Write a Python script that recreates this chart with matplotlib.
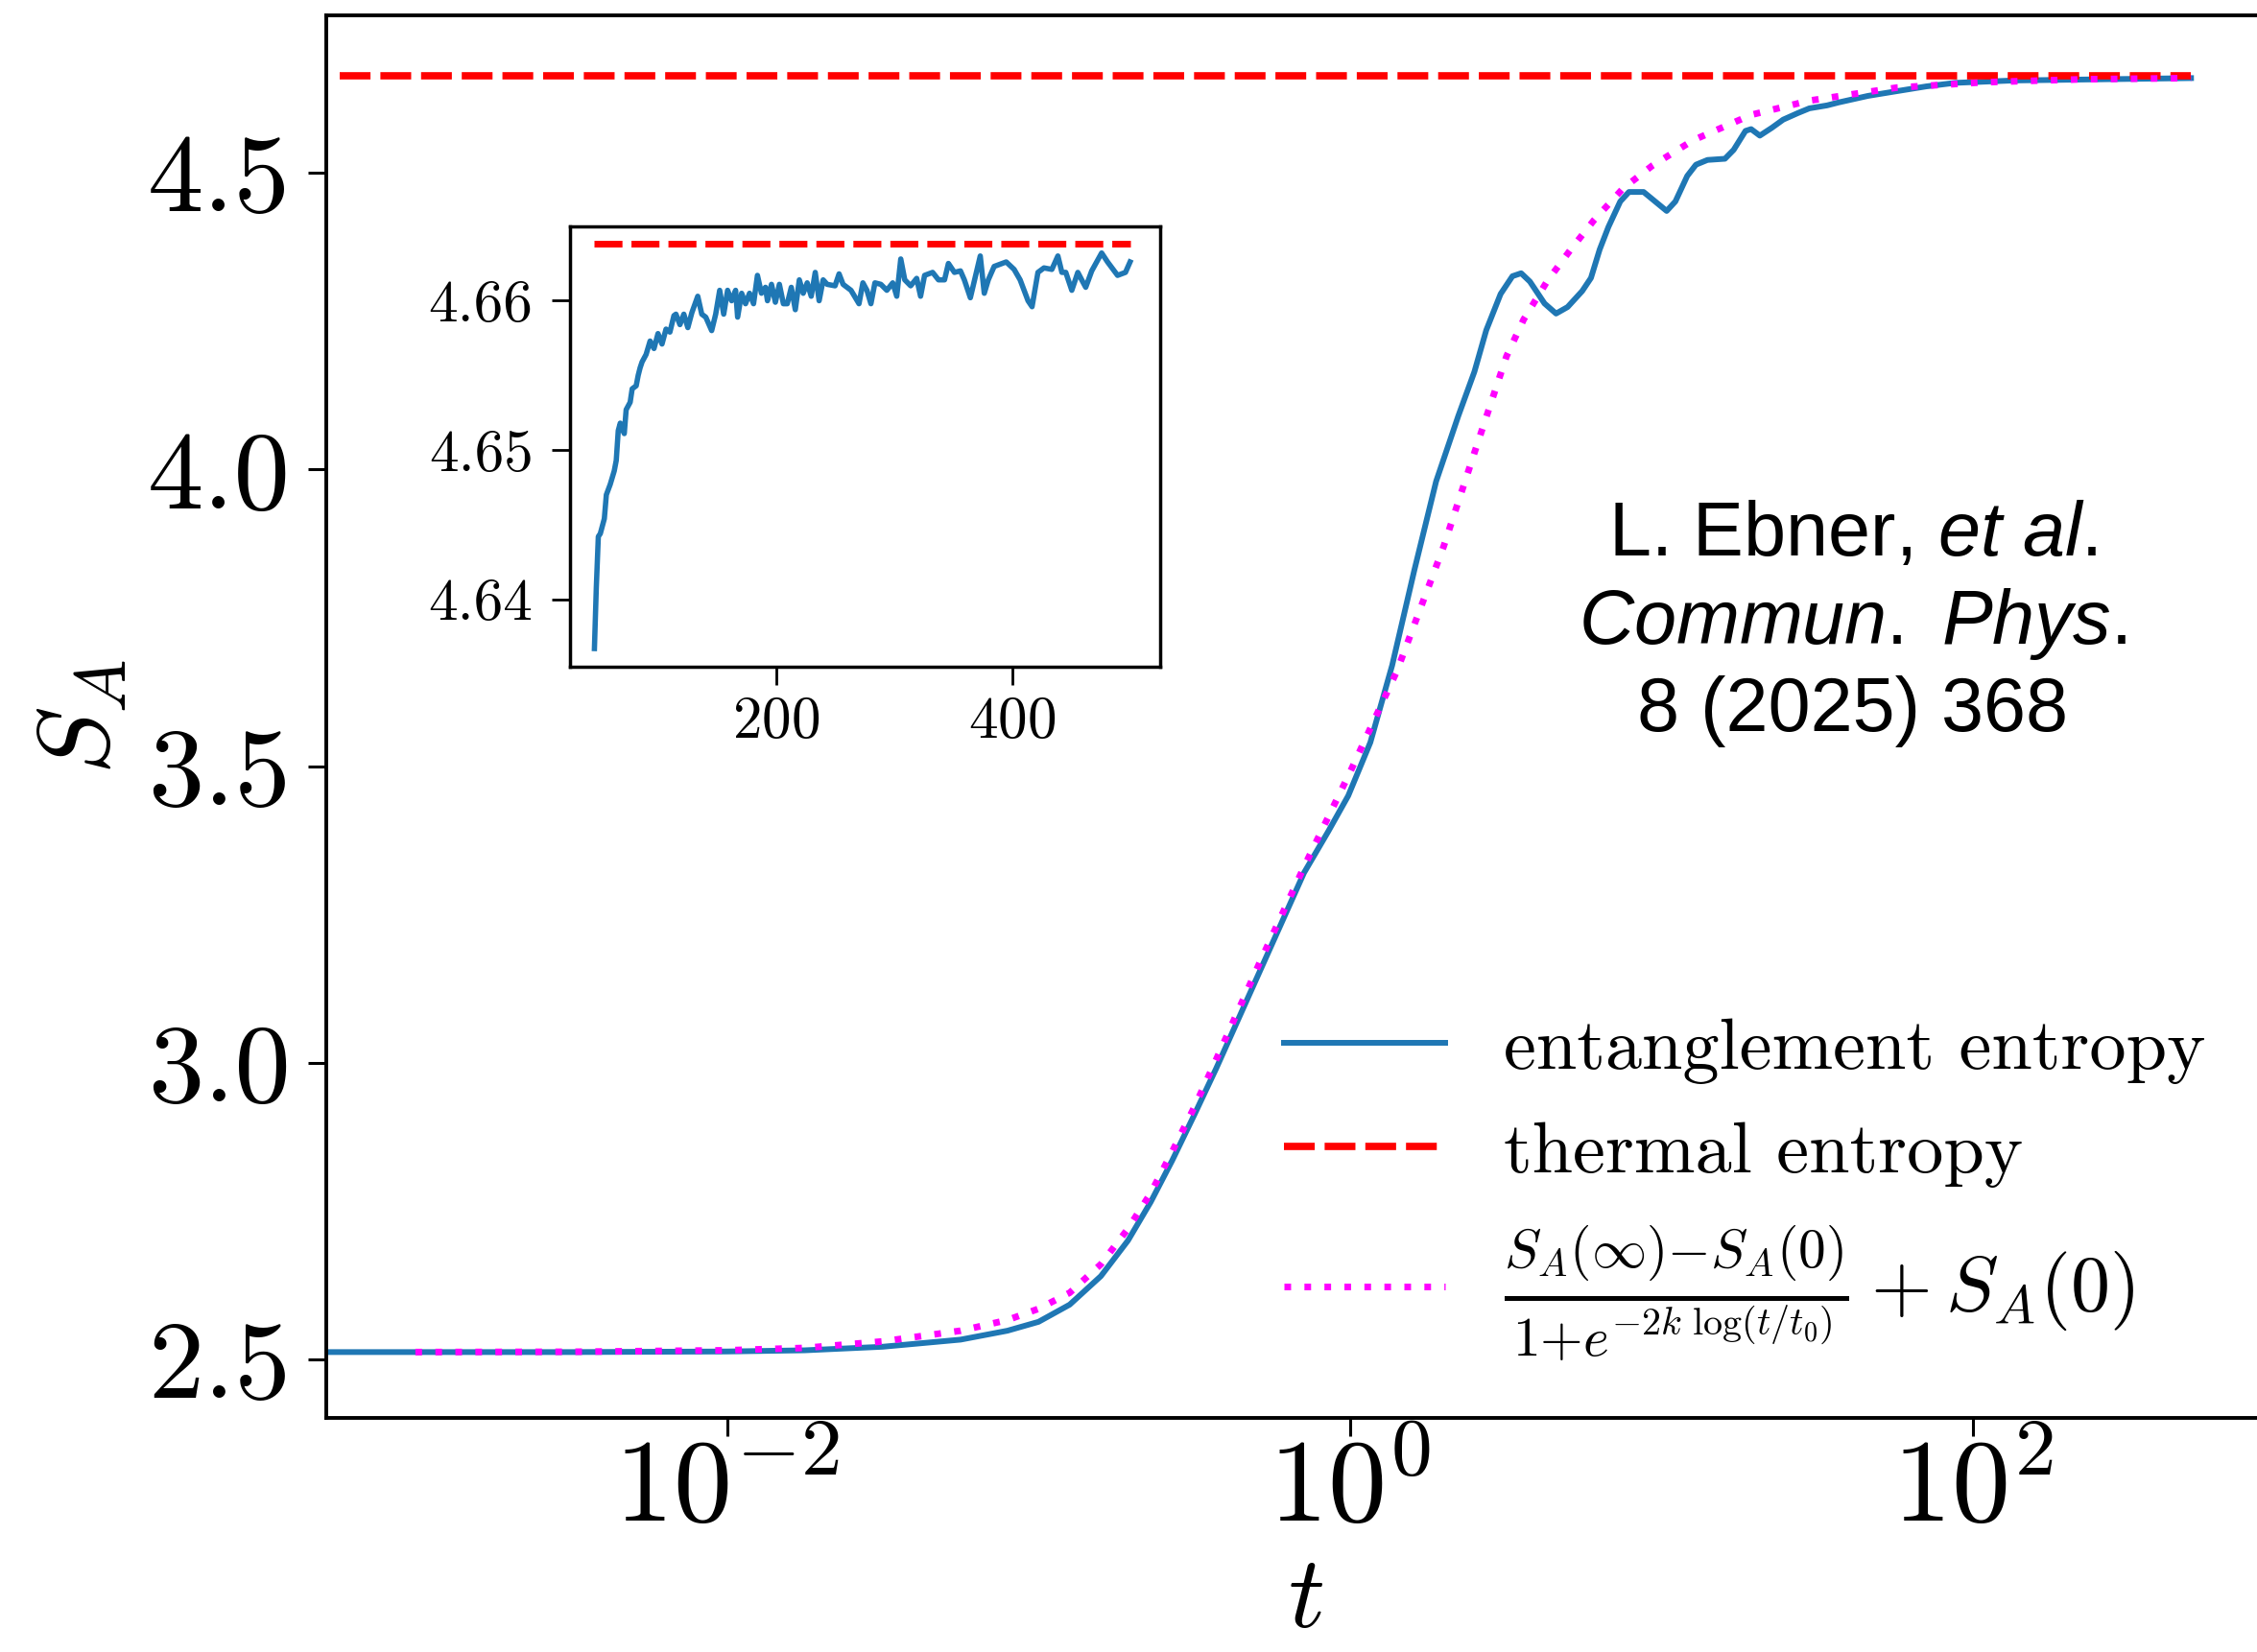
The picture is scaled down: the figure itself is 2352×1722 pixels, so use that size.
import numpy as np
import matplotlib
matplotlib.use('Agg')
import matplotlib.pyplot as plt
from matplotlib.ticker import FormatStrFormatter, NullLocator

# Fonts: Computer Modern for the plot, Helvetica-like for the citation
plt.rcParams['font.family'] = 'serif'
plt.rcParams['font.serif'] = ['cmr10']
plt.rcParams['mathtext.fontset'] = 'cm'
plt.rcParams['axes.formatter.use_mathtext'] = True
plt.rcParams['mathtext.rm'] = 'Liberation Sans'
plt.rcParams['mathtext.it'] = 'Liberation Sans:italic'

# Data, main panel: log10(t) and S_A
logt_ent = [-3.286, -2.5, -2.0, -1.75, -1.5, -1.25, -1.1, -1.0, -0.9, -0.8,
            -0.713, -0.64, -0.571, -0.5, -0.43, -0.289, -0.148, -0.07, -0.006, 0.065,
            0.135, 0.206, 0.276, 0.347, 0.399,
            0.437, 0.483, 0.521, 0.549, 0.577, 0.624, 0.661, 0.698, 0.745, 0.773,
            0.801, 0.829, 0.867, 0.895, 0.942, 0.979, 1.016, 1.044, 1.082, 1.110,
            1.147, 1.203, 1.231, 1.269, 1.287, 1.315, 1.353, 1.390, 1.437, 1.474,
            1.531, 1.568, 1.662, 1.755, 1.849, 1.942, 2.129, 2.410, 2.699]
S_ent = [2.512, 2.512, 2.513, 2.515, 2.521, 2.533, 2.548, 2.563, 2.592, 2.640,
         2.700, 2.765, 2.835, 2.912, 2.990, 3.155, 3.320, 3.390, 3.450, 3.540,
         3.670, 3.830, 3.980, 4.090, 4.165,
         4.235, 4.296, 4.326, 4.331, 4.317, 4.280, 4.263, 4.274, 4.301, 4.323,
         4.371, 4.409, 4.452, 4.468, 4.468, 4.452, 4.436, 4.452, 4.495, 4.514,
         4.522, 4.524, 4.539, 4.571, 4.574, 4.563, 4.576, 4.590, 4.601, 4.609,
         4.614, 4.619, 4.630, 4.638, 4.646, 4.652, 4.656, 4.658, 4.660]

logt_fit = [-3.0, -2.5, -2.0, -1.75, -1.5, -1.25, -1.1, -1.0, -0.9, -0.8,
            -0.713, -0.64, -0.571, -0.5, -0.43, -0.289, -0.148, 0.0, 0.15, 0.3,
            0.4, 0.502, 0.557, 0.633, 0.708, 0.782, 0.876, 0.969, 1.100, 1.287,
            1.474, 1.755, 2.035, 2.35, 2.699]
S_fit = [2.512, 2.5125, 2.515, 2.519, 2.530, 2.548, 2.566, 2.585, 2.612, 2.660,
         2.720, 2.780, 2.850, 2.925, 3.005, 3.170, 3.330, 3.490, 3.660, 3.870,
         4.030, 4.191, 4.253, 4.318, 4.371, 4.420, 4.474, 4.512, 4.555, 4.598,
         4.622, 4.644, 4.653, 4.658, 4.660]

S_thermal = 4.6638
t_thermal = [5.7e-4, 500]

# Inset: late-time entanglement entropy
t_in = [45.9, 47.5, 49.2, 50.9, 54.3, 56.0, 59.3, 62.7, 64.4, 66.1, 67.8, 71.2, 72.8,
        76.2, 77.9, 81.3, 83.0, 84.6, 86.3, 89.7, 93.1, 96.4, 99.8, 103.2, 106.6,
        109.9, 113.3, 115.0, 118.4, 121.7, 125.1, 128.5, 133.5, 136.9, 140.3, 145.3,
        148.7, 152.1, 155.5, 158.8, 162.2, 165.6, 167.3, 170.7, 174.0, 177.4, 180.8,
        184.1, 187.5, 190.9, 192.6, 196.0, 199.3, 202.7, 206.1, 209.4, 212.8, 216.2,
        219.6, 222.9, 226.3, 229.7, 233.1, 236.4, 239.8, 243.2, 249.9, 253.3, 256.7,
        263.4, 270.2, 273.5, 276.9, 280.3, 283.7, 288.7, 293.8, 298.8, 302.2, 305.6,
        309.0, 314.0, 319.1, 322.4, 325.8, 332.6, 337.6, 342.7, 346.0, 351.1, 356.2,
        359.5, 364.6, 369.7, 373.0, 376.4, 379.8, 384.8, 395.0, 401.7, 406.8, 413.5,
        416.9, 421.9, 427.0, 433.7, 438.8, 442.2, 445.5, 450.6, 455.7, 459.0, 462.4,
        467.5, 475.9, 480.9, 489.4, 496.1, 500.0]
S_in = [4.6367, 4.6408, 4.6442, 4.6444, 4.6454, 4.6470, 4.6477, 4.6486, 4.6493, 4.6513,
        4.6518, 4.6511, 4.6527, 4.6532, 4.6541, 4.6543, 4.6550, 4.6555, 4.6559, 4.6564,
        4.6573, 4.6568, 4.6578, 4.6571, 4.6581, 4.6579, 4.6590, 4.6591, 4.6584, 4.6591,
        4.6582, 4.6592, 4.6603, 4.6591, 4.6589, 4.6580, 4.6591, 4.6607, 4.6591, 4.6607,
        4.6600, 4.6607, 4.6589, 4.6605, 4.6598, 4.6605, 4.6598, 4.6617, 4.6605, 4.6609,
        4.6600, 4.6611, 4.6599, 4.6611, 4.6598, 4.6598, 4.6609, 4.6594, 4.6614, 4.6605,
        4.6612, 4.6603, 4.6619, 4.6600, 4.6614, 4.6611, 4.6610, 4.6618, 4.6611, 4.6607,
        4.6598, 4.6612, 4.6607, 4.6598, 4.6612, 4.6611, 4.6607, 4.6612, 4.6603, 4.6628,
        4.6614, 4.6610, 4.6615, 4.6603, 4.6617, 4.6619, 4.6614, 4.6614, 4.6625, 4.6619,
        4.6620, 4.6614, 4.6602, 4.6619, 4.6630, 4.6605, 4.6614, 4.6623, 4.6626, 4.6621,
        4.6614, 4.6600, 4.6596, 4.6619, 4.6622, 4.6621, 4.6630, 4.6619, 4.6619, 4.6607,
        4.6619, 4.6614, 4.6609, 4.6620, 4.6632, 4.6626, 4.6617, 4.6619, 4.6626]
t_in_thermal = [45.9, 500]

blue = '#1f77b4'
red_dash = (0, (4.2, 1.35))
mag_dot = (0, (1, 2))

# Figure
fig = plt.figure(figsize=(23.52, 17.22), dpi=100)
ax = fig.add_axes([0.14456, 0.14170, 0.86777, 0.84872])

ax.plot(10**np.array(logt_ent), S_ent, color=blue, lw=4.3, label='entanglement entropy')
ax.plot(t_thermal, [S_thermal, S_thermal], color='red', lw=5.5, linestyle=red_dash,
        label='thermal entropy')
ax.plot(10**np.array(logt_fit), S_fit, color='magenta', lw=5, linestyle=mag_dot,
        label=r'$\frac{S_A(\infty){-}S_A(0)}{1{+}e^{-2k\ \log(t/t_0)}}+S_A(0)$')

ax.set_xscale('log')
ax.set_xlim(10**-3.286, 10**3.0)
ax.set_ylim(2.401, 4.765)
ax.set_xticks([1e-2, 1, 1e2])
ax.xaxis.set_minor_locator(NullLocator())
ax.set_yticks([2.5, 3.0, 3.5, 4.0, 4.5])
ax.yaxis.set_major_formatter(FormatStrFormatter('%.1f'))
ax.tick_params(direction='out', length=14, width=2.2, labelsize=84)
ax.tick_params(axis='x', pad=0, labelsize=88)
ax.tick_params(axis='y', pad=13)
for s in ax.spines.values():
    s.set_linewidth(2.8)

ax.set_xlabel(r'$t$', fontsize=76, labelpad=10)
ax.set_ylabel(r'$S_A$', fontsize=76, labelpad=14)

leg = ax.legend(loc='upper left', bbox_to_anchor=(1338/2352, 0.384),
                bbox_transform=fig.transFigure, frameon=False, fontsize=55,
                handlelength=2.2, handletextpad=0.8, borderpad=0, borderaxespad=0,
                labelspacing=0.5)
leg.get_texts()[2].set_fontsize(59)

# Citation
fig.text(0.8207, 0.6225, 'L. Ebner, $\\mathit{et\\ al.}$\n$\\mathit{Commun.\\ Phys.}$\n8 (2025) 368',
         family='Liberation Sans', math_fontfamily='custom', fontsize=57,
         ha='center', va='center', multialignment='center', linespacing=1.24)

# Inset
axin = fig.add_axes([0.25276, 0.59640, 0.26142, 0.26655])
axin.plot(t_in, S_in, color=blue, lw=4)
axin.plot(t_in_thermal, [S_thermal, S_thermal], color='red', lw=5, linestyle=red_dash)
axin.set_xlim(25.6, 525.8)
axin.set_ylim(4.63548, 4.66498)
axin.set_xticks([200, 400])
axin.set_yticks([4.64, 4.65, 4.66])
axin.yaxis.set_major_formatter(FormatStrFormatter('%.2f'))
axin.tick_params(direction='out', length=14, width=2.0, labelsize=44, pad=8)
axin.tick_params(axis='y', pad=14)
for s in axin.spines.values():
    s.set_linewidth(2.5)

fig.savefig('out.png', dpi=100)
